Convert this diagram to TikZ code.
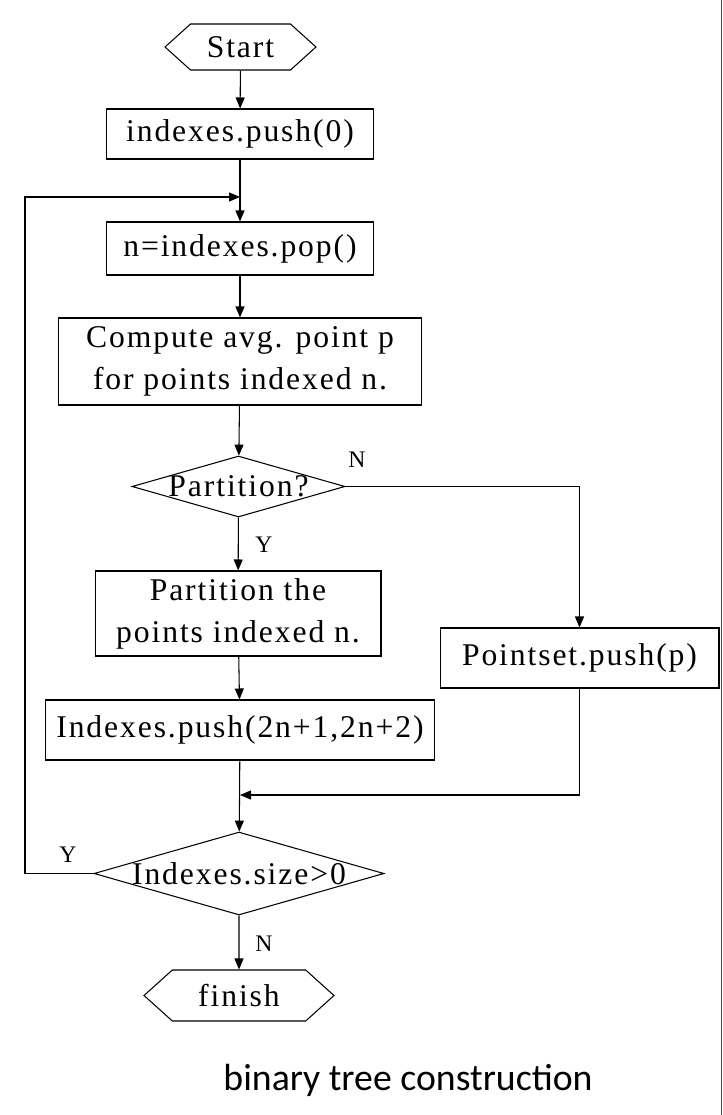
\documentclass[tikz,border=0pt]{standalone}
\usepackage{fontspec}
\setmainfont{Liberation Serif}[LetterSpace=6]
\newfontfamily\capfont{Carlito}
\usetikzlibrary{arrows.meta,shapes.geometric,shapes.symbols}

\begin{document}
\begin{tikzpicture}[x=0.02cm, y=-0.02cm, line width=0.6pt, >={Triangle[length=2.2mm,width=1.8mm]},
	every node/.style={font=\fontsize{18}{24}\selectfont},
	procbox/.style={draw, inner sep=0pt, align=center},
	termbox/.style={draw, signal, signal to=west and east, signal pointer angle=84, inner sep=0pt},
	decide/.style={draw, diamond, inner sep=0pt},
	yesno/.style={font=\fontsize{13.5}{15}\selectfont}]
	\useasboundingbox (0,0) rectangle (723,1115);
	\node[termbox, minimum width=3.02cm, minimum height=0.92cm] (start) at (240.5,47) {Start};
	\node[procbox, minimum width=5.34cm, minimum height=1.0cm] (push0) at (240,134) {indexes.push(0)};
	\node[procbox, minimum width=5.34cm, minimum height=1.06cm] (pop) at (240,248.5) {n=indexes.pop()};
	\node[procbox, minimum width=7.26cm, minimum height=1.74cm] (avg) at (240,361.5) {Compute avg. point p\\for points indexed n.};
	\node[decide, minimum width=4.26cm, minimum height=1.22cm] (part) at (238.5,486.5) {\makebox[0pt]{Partition?}};
	\node[procbox, minimum width=5.72cm, minimum height=1.7cm] (split) at (238,613.5) {Partition the\\points indexed n.};
	\node[procbox, minimum width=5.58cm, minimum height=1.2cm] (pset) at (579.5,658) {Pointset.push(p)};
	\node[procbox, minimum width=7.8cm, minimum height=1.2cm] (push2) at (240,730) {Indexes.push(2n+1,2n+2)};
	\node[decide, minimum width=5.8cm, minimum height=1.66cm] (size) at (239,873.5) {\makebox[0pt]{Indexes.size>0}};
	\node[termbox, minimum width=3.8cm, minimum height=1.02cm] (finish) at (239,995.5) {finish};
	\node[yesno] (partN) at (357,460) {N};
	\node[yesno] (partY) at (264,545) {Y};
	\node[yesno] (sizeY) at (68,855) {Y};
	\node[yesno] (sizeN) at (264,944) {N};
	\node[font=\capfont\fontsize{21.5}{26}\selectfont] (caption) at (408,1080) {binary tree construction};
	\coordinate (join) at (240,197);
	\coordinate (merge) at (240,795);
	\coordinate (back) at (25,873.5);
	\draw[->] (start) -- (push0);
	\draw[->] (push0) -- (pop);
	\draw[->] (pop) -- (avg);
	\draw[->] (avg) -- (part);
	\draw[->] (part.east) -| (pset.north);
	\draw[->] (part) -- (split);
	\draw[->] (split) -- (push2);
	\draw[->] (pset.south) |- (merge);
	\draw[->] (push2) -- (size);
	\draw[->] (size.west) -- (back) |- (join);
	\draw[->] (size) -- (finish);
	\draw[gray!60!black, line width=1.1pt] (721.5,0) -- (721.5,1115);
\end{tikzpicture}
\end{document}
